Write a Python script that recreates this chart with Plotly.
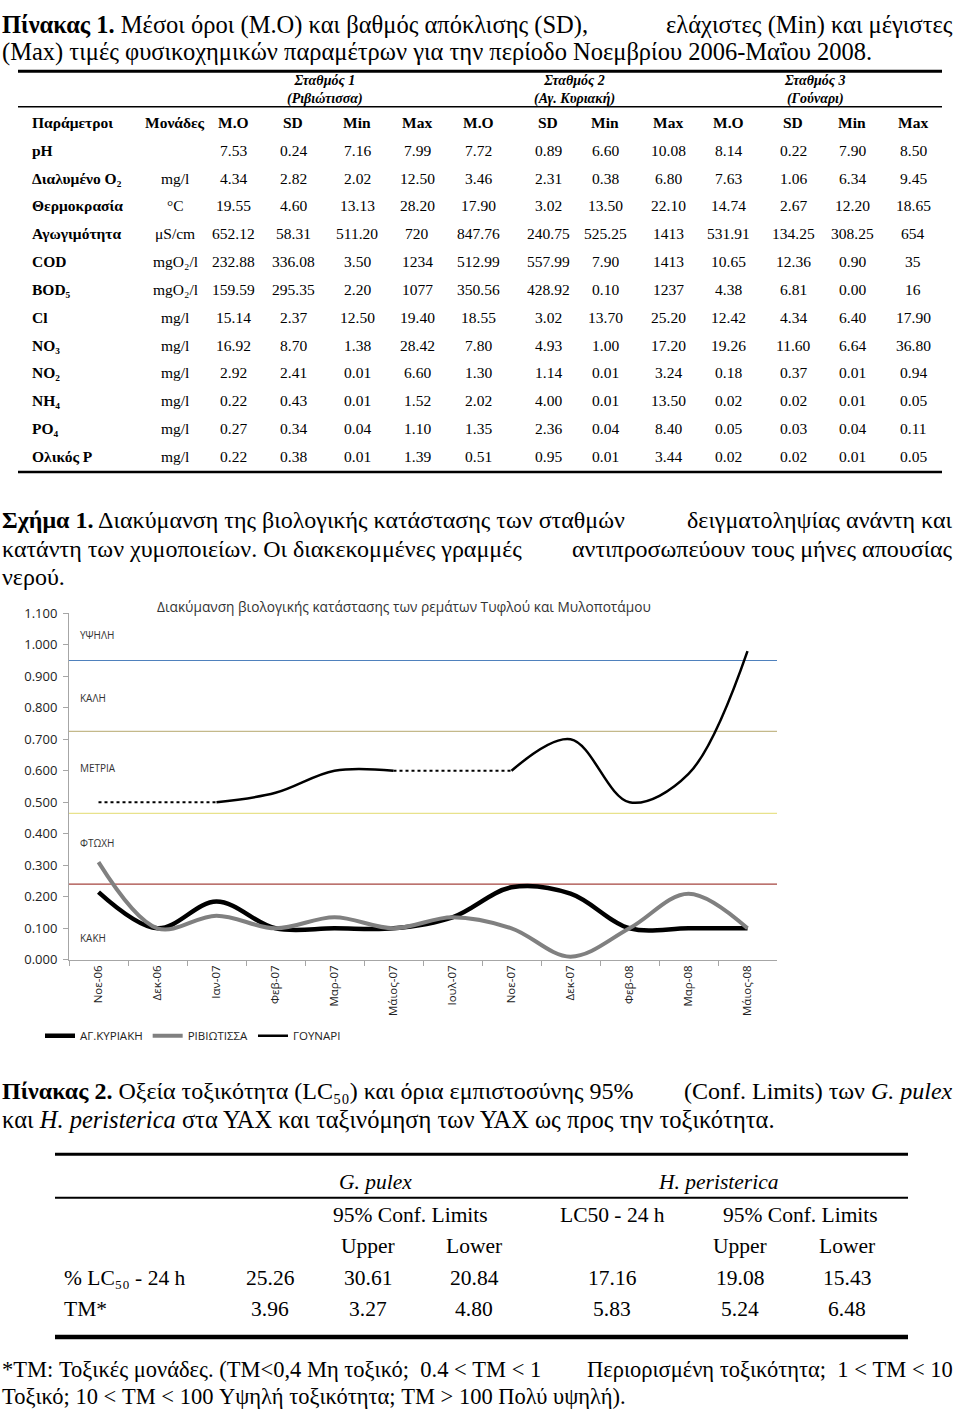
import plotly.graph_objects as go

W, H = 960, 1420


def px(x):
    return x / W


def py(y):
    return 1 - y / H


# ---- Table 1 data ----
t1_params = ["pH", "Διαλυμένο O₂", "Θερμοκρασία", "Αγωγιμότητα", "COD", "BOD₅",
             "Cl", "NO₃", "NO₂", "NH₄", "PO₄", "Ολικός P"]
t1_units = ["", "mg/l", "°C", "μS/cm", "mgO₂/l", "mgO₂/l",
            "mg/l", "mg/l", "mg/l", "mg/l", "mg/l", "mg/l"]
s1_mo = ["7.53", "4.34", "19.55", "652.12", "232.88", "159.59", "15.14", "16.92", "2.92", "0.22", "0.27", "0.22"]
s1_sd = ["0.24", "2.82", "4.60", "58.31", "336.08", "295.35", "2.37", "8.70", "2.41", "0.43", "0.34", "0.38"]
s1_min = ["7.16", "2.02", "13.13", "511.20", "3.50", "2.20", "12.50", "1.38", "0.01", "0.01", "0.04", "0.01"]
s1_max = ["7.99", "12.50", "28.20", "720", "1234", "1077", "19.40", "28.42", "6.60", "1.52", "1.10", "1.39"]
s2_mo = ["7.72", "3.46", "17.90", "847.76", "512.99", "350.56", "18.55", "7.80", "1.30", "2.02", "1.35", "0.51"]
s2_sd = ["0.89", "2.31", "3.02", "240.75", "557.99", "428.92", "3.02", "4.93", "1.14", "4.00", "2.36", "0.95"]
s2_min = ["6.60", "0.38", "13.50", "525.25", "7.90", "0.10", "13.70", "1.00", "0.01", "0.01", "0.04", "0.01"]
s2_max = ["10.08", "6.80", "22.10", "1413", "1413", "1237", "25.20", "17.20", "3.24", "13.50", "8.40", "3.44"]
s3_mo = ["8.14", "7.63", "14.74", "531.91", "10.65", "4.38", "12.42", "19.26", "0.18", "0.02", "0.05", "0.02"]
s3_sd = ["0.22", "1.06", "2.67", "134.25", "12.36", "6.81", "4.34", "11.60", "0.37", "0.02", "0.03", "0.02"]
s3_min = ["7.90", "6.34", "12.20", "308.25", "0.90", "0.00", "6.40", "6.64", "0.01", "0.01", "0.04", "0.01"]
s3_max = ["8.50", "9.45", "18.65", "654", "35", "16", "17.90", "36.80", "0.94", "0.05", "0.11", "0.05"]
stations = ["Σταθμός 1", "Σταθμός 2", "Σταθμός 3"]
station_names = ["(Ριβιώτισσα)", "(Αγ. Κυριακή)", "(Γούναρι)"]
stat_labels = ["Μ.Ο", "SD", "Min", "Max"]

# ---- Figure 1 data ----
months = ["Νοε-06", "Δεκ-06", "Ιαν-07", "Φεβ-07", "Μαρ-07", "Μάιος-07",
          "Ιουλ-07", "Νοε-07", "Δεκ-07", "Φεβ-08", "Μαρ-08", "Μάιος-08"]
ag_kyriaki = [0.215, 0.10, 0.185, 0.10, 0.10, 0.10, 0.135, 0.23, 0.21, 0.10, 0.10, 0.10]
riviotissa = [0.31, 0.10, 0.14, 0.10, 0.135, 0.10, 0.135, 0.10, 0.01, 0.10, 0.21, 0.10]
gounari = [0.50, 0.50, 0.50, 0.53, 0.60, 0.60, 0.60, 0.60, 0.70, 0.50, 0.59, 0.98]
dry_periods = [(0, 2), (5, 7)]          # no water: dotted
sampling_periods = [(0, 5), (7, 11)]    # arrows under the axis
class_names = ["ΥΨΗΛΗ", "ΚΑΛΗ", "ΜΕΤΡΙΑ", "ΦΤΩΧΗ", "ΚΑΚΗ"]
class_limits = [0.95, 0.725, 0.465, 0.24]
class_colors = ["#4f81bd", "#c4b98a", "#e8e28c", "#a5443f"]

# ---- Table 2 data ----
t2_rows = ["% LC₅₀ - 24 h", "TM*"]
gp_lc50 = ["25.26", "3.96"]
gp_upper = ["30.61", "3.27"]
gp_lower = ["20.84", "4.80"]
hp_lc50 = ["17.16", "5.83"]
hp_upper = ["19.08", "5.24"]
hp_lower = ["15.43", "6.48"]

SERIF = "Liberation Serif, DejaVu Serif Condensed, DejaVu Serif"
SANS = "Open Sans"
annotations = []
shapes = []


def text(x, y, s, size=15, anchor="center", font=SERIF, color="black"):
    if not s:
        return
    annotations.append(dict(x=px(x), y=py(y), xref="paper", yref="paper", text=s, showarrow=False,
                            xanchor=anchor, yanchor="middle",
                            font=dict(family=font, size=size, color=color)))


def rule(x0, x1, y, w):
    shapes.append(dict(type="line", xref="paper", yref="paper", x0=px(x0), x1=px(x1),
                       y0=py(y), y1=py(y), line=dict(color="black", width=w)))


CAP = 24.5

# ---- Table 1 caption ----
text(0, 16, "<b>Πίνακας 1.</b> Μέσοι όροι (Μ.Ο) και βαθμός απόκλισης (SD),", CAP, "left")
text(955, 16, "ελάχιστες (Min) και μέγιστες", CAP, "right")
text(0, 44, "(Max) τιμές φυσικοχημικών παραμέτρων για την περίοδο Νοεμβρίου 2006-Μαΐου 2008.", CAP, "left")

# ---- Table 1 ----
rule(18, 942, 63, 3)
rule(18, 942, 99, 1.5)
rule(18, 942, 469, 2.5)
station_x = [325, 574, 815]
for sx, st, nm in zip(station_x, stations, station_names):
    text(sx, 82, "<b><i>" + st + "<br>" + nm + "</i></b>", 14)
col_x = [233, 293, 357, 417, 478, 548, 605, 668, 728, 793, 852, 913]
TF = 15.5
text(30, 115, "<b>Παράμετροι</b>", TF, "left")
text(175, 115, "<b>Μονάδες</b>", TF)
for i, cx in enumerate(col_x):
    text(cx, 115, "<b>" + stat_labels[i % 4] + "</b>", TF)
columns = [s1_mo, s1_sd, s1_min, s1_max, s2_mo, s2_sd, s2_min, s2_max, s3_mo, s3_sd, s3_min, s3_max]
row_y0, row_dy = 143, 28.2
for r, (p, u) in enumerate(zip(t1_params, t1_units)):
    ry = row_y0 + r * row_dy
    text(30, ry, "<b>" + p + "</b>", TF, "left")
    text(175, ry, u, TF)
    for cx, col in zip(col_x, columns):
        text(cx, ry, col[r], TF)

# ---- Figure 1 caption ----
text(0, 518, "<b>Σχήμα 1.</b> Διακύμανση της βιολογικής κατάστασης των σταθμών", 24, "left")
text(955, 518, "δειγματοληψίας ανάντη και", 24, "right")
text(0, 547, "κατάντη των χυμοποιείων. Οι διακεκομμένες γραμμές", 24, "left")
text(955, 547, "αντιπροσωπεύουν τους μήνες απουσίας", 24, "right")
text(0, 575, "νερού.", 24, "left")

# ---- Figure 1 chart ----
fig = go.Figure()
fig.add_trace(go.Scatter(x=months, y=ag_kyriaki, name="ΑΓ.ΚΥΡΙΑΚΗ", mode="lines",
                         line=dict(color="black", width=4.5, shape="spline", smoothing=1)))
fig.add_trace(go.Scatter(x=months, y=riviotissa, name="ΡΙΒΙΩΤΙΣΣΑ", mode="lines",
                         line=dict(color="#808080", width=4, shape="spline", smoothing=1)))

dry_idx = set()
for a, b in dry_periods:
    dry_idx.update(range(a, b + 1))
wet_idx = set()
for a, b in zip([p[1] for p in dry_periods], [p[0] for p in dry_periods[1:]] + [len(months) - 1]):
    wet_idx.update(range(a, b + 1))
gounari_wet = [v if i in wet_idx else None for i, v in enumerate(gounari)]
gounari_dry = [v if i in dry_idx else None for i, v in enumerate(gounari)]
fig.add_trace(go.Scatter(x=months, y=gounari_wet, name="ΓΟΥΝΑΡΙ", mode="lines", connectgaps=False,
                         line=dict(color="black", width=2.5, shape="spline", smoothing=1)))
fig.add_trace(go.Scatter(x=months, y=gounari_dry, name="ΓΟΥΝΑΡΙ", mode="lines", connectgaps=False,
                         showlegend=False, line=dict(color="black", width=2, dash="dot")))

for lim, c in zip(class_limits, class_colors):
    shapes.append(dict(type="line", xref="x domain", yref="y", x0=0, x1=1, y0=lim, y1=lim,
                       line=dict(color=c, width=1.2), layer="below"))
class_label_y = [1.03, 0.83, 0.61, 0.37, 0.07]
for nm, ly in zip(class_names, class_label_y):
    annotations.append(dict(x=0.013, y=ly, xref="x domain", yref="y", text=nm, showarrow=False,
                            xanchor="left", yanchor="middle",
                            font=dict(family=SANS, size=10, color="#333333")))

for a, b in sampling_periods:
    annotations.append(dict(x=b, y=-0.175, ax=a, ay=-0.175, xref="x", yref="y", axref="x", ayref="y",
                            text="", showarrow=True, arrowhead=2, arrowside="end+start",
                            arrowsize=1, arrowwidth=2, arrowcolor="black", standoff=0, startstandoff=0))

text(404, 605, "Διακύμανση βιολογικής κατάστασης των ρεμάτων Τυφλού και Μυλοποτάμου", 13.7, font=SANS,
     color="#333333")

# ---- Table 2 caption ----
text(0, 1096, "<b>Πίνακας 2.</b> Οξεία τοξικότητα (LC₅₀) και όρια εμπιστοσύνης 95%", 24, "left")
text(955, 1096, "(Conf. Limits) των <i>G. pulex</i>", 24, "right")
text(0, 1125, "και <i>H. peristerica</i> στα ΥΑΧ και ταξινόμηση των ΥΑΧ ως προς την τοξικότητα.", 24.5, "left")

# ---- Table 2 ----
rule(55, 908, 1160, 3)
rule(55, 908, 1204, 2)
rule(55, 908, 1345, 4.5)
T2 = 21.5
text(375, 1188, "<i>G. pulex</i>", T2)
text(718, 1188, "<i>H. peristerica</i>", T2)
text(410, 1221, "95% Conf. Limits", T2)
text(612, 1221, "LC50 - 24 h", T2)
text(800, 1221, "95% Conf. Limits", T2)
t2_x = [270, 368, 474, 612, 740, 847]
for xx, s in zip([t2_x[1], t2_x[2], t2_x[4], t2_x[5]], ["Upper", "Lower", "Upper", "Lower"]):
    text(xx, 1253, s, T2)
t2_cols = [gp_lc50, gp_upper, gp_lower, hp_lc50, hp_upper, hp_lower]
for r, name in enumerate(t2_rows):
    ry = 1285 + r * 32
    text(62, ry, name, T2, "left")
    for xx, col in zip(t2_x, t2_cols):
        text(xx, ry, col[r], T2)

# ---- footnote ----
text(0, 1378, "*TM: Τοξικές μονάδες. (TM&lt;0,4 Μη τοξικό;  0.4 &lt; TM &lt; 1", 22.5, "left")
text(955, 1378, "Περιορισμένη τοξικότητα;  1 &lt; TM &lt; 10", 22.5, "right")
text(0, 1405, "Τοξικό; 10 &lt; TM &lt; 100 Υψηλή τοξικότητα; TM &gt; 100 Πολύ υψηλή).", 22.5, "left")

fig.update_xaxes(type="category", categoryorder="array", categoryarray=months, range=[-0.5, 11.5],
                 domain=[px(69), px(777)], tickson="boundaries", ticks="outside", ticklen=5,
                 tickcolor="#a6a6a6", showline=True, linecolor="#a6a6a6", linewidth=1,
                 showgrid=False, tickangle=-90, tickfont=dict(family=SANS, size=11.5, color="#222222"))
fig.update_yaxes(range=[0, 1.1], domain=[py(963), py(612)], tick0=0, dtick=0.1, tickformat=".3f",
                 ticks="outside", ticklen=5, tickcolor="#a6a6a6", showline=True, linecolor="#a6a6a6",
                 linewidth=1, showgrid=False, zeroline=False, ticklabelstandoff=3,
                 tickfont=dict(family=SANS, size=13, color="#222222"))

fig.update_layout(
    width=W, height=H,
    margin=dict(l=0, r=0, t=0, b=0),
    paper_bgcolor="white", plot_bgcolor="white",
    showlegend=True,
    legend=dict(orientation="h", x=px(40), y=py(1040), xanchor="left", yanchor="middle",
                font=dict(family=SANS, size=11.5, color="#222222"), itemwidth=30,
                bgcolor="rgba(0,0,0,0)"),
    annotations=annotations,
    shapes=shapes,
)

fig.write_html("out.html", config={"displayModeBar": False},
               post_script="document.body.style.margin='0';")
